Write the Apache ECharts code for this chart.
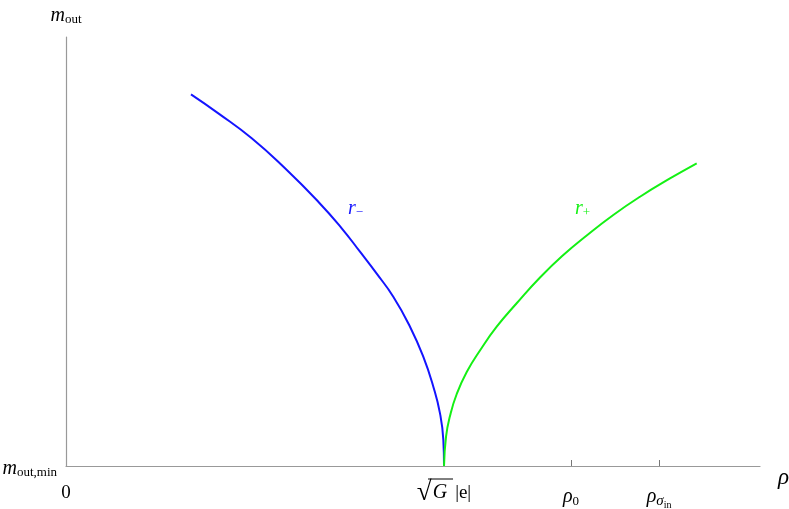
<!DOCTYPE html>
<html><head><meta charset="utf-8">
<script src="https://cdn.jsdelivr.net/npm/echarts@6/dist/echarts.min.js"></script>
<style>html,body{margin:0;padding:0;background:#fff}#c{width:789px;height:509px}</style>
</head><body><div id="c"></div>
<script>
// rho (x) and m_out (y) values, in arbitrary units
var rMinusX = [1.801, 2.195, 2.676, 3.156, 3.635, 3.973, 4.236, 4.477, 4.716, 4.957, 5.148, 5.293, 5.389, 5.437, 5.447];
var rMinusY = [8.664, 8.221, 7.639, 6.939, 6.161, 5.541, 4.995, 4.483, 3.946, 3.247, 2.548, 1.848, 1.228, 0.606, 0];
var rPlusX = [5.447, 5.476, 5.533, 5.630, 5.774, 5.965, 6.206, 6.494, 6.830, 7.166, 7.503, 7.886, 8.271, 8.703, 9.088];
var rPlusY = [0, 0.683, 1.166, 1.678, 2.191, 2.692, 3.247, 3.793, 4.394, 4.918, 5.373, 5.851, 6.277, 6.702, 7.056];
var xTickValues = [5.447, 7.277, 8.545];
var xTickLabels = ['sqrtGe', 'rho0', 'rhoSigma'];
var xMax = 10, yMax = 10;

function pairs(xs, ys){ return xs.map(function(x,i){ return [x, ys[i]]; }); }
var labelMap = {};
xTickValues.forEach(function(v,i){ labelMap[v] = xTickLabels[i]; });
var serif = '"Liberation Serif", "DejaVu Serif", serif';

var chart = echarts.init(document.getElementById('c'));
chart.setOption({
  animation: false,
  grid: {left: 66, right: 29, top: 37, bottom: 43, outerBoundsMode: 'none', containLabel: false},
  xAxis: {
    type: 'value', min: 0, max: xMax,
    splitLine: {show: false},
    axisLine: {lineStyle: {color: '#999', width: 1.2}},
    axisTick: {show: true, inside: true, length: 6, customValues: xTickValues, lineStyle: {color: '#777'}},
    axisLabel: {
      customValues: [0].concat(xTickValues), margin: 15,
      fontFamily: serif, color: '#000', fontSize: 19,
      formatter: function(v){
        if (v === 0) return '{n|0}';
        var k = labelMap[v];
        if (k === 'sqrtGe') return '{rad|√}{g|G}{n||e|}';
        if (k === 'rho0') return '{r|ρ}{sub|0}';
        if (k === 'rhoSigma') return '{r|ρ}{subi|σ}{subsub|in}';
        return '';
      },
      rich: {
        n: {fontFamily: serif, fontSize: 19, color: '#000', lineHeight: 24},
        rad: {fontFamily: serif, fontSize: 27, color: '#000', lineHeight: 24, padding: [0,0,0,0]},
        g: {fontFamily: serif, fontStyle: 'italic', fontSize: 20, color: '#000', lineHeight: 24, padding: [0,8,0,1]},
        r: {fontFamily: serif, fontStyle: 'italic', fontSize: 20, color: '#000', lineHeight: 24, padding: [8,0,0,0]},
        sub: {fontFamily: serif, fontSize: 13, color: '#000', lineHeight: 24, padding: [18,0,0,0]},
        subi: {fontFamily: serif, fontStyle: 'italic', fontSize: 15, color: '#000', lineHeight: 24, padding: [16,0,0,0]},
        subsub: {fontFamily: serif, fontSize: 10, color: '#000', lineHeight: 24, padding: [25,0,0,0]}
      }
    },
    name: 'ρ', nameLocation: 'end', nameGap: 18,
    nameTextStyle: {fontFamily: serif, fontStyle: 'italic', fontSize: 23, color: '#000', verticalAlign: 'top'}
  },
  yAxis: {
    type: 'value', min: 0, max: yMax,
    splitLine: {show: false},
    axisLine: {show: true, lineStyle: {color: '#999', width: 1.2}},
    axisTick: {show: false},
    axisLabel: {
      customValues: [0], margin: 9,
      formatter: function(){ return '{m|m}{s|out,min}'; },
      rich: {
        m: {fontFamily: serif, fontStyle: 'italic', fontSize: 20, color: '#000', lineHeight: 22, padding: [6,0,0,0]},
        s: {fontFamily: serif, fontSize: 13, color: '#000', lineHeight: 22, padding: [14,0,0,0]}
      }
    },
    name: '{m|m}{s|out}', nameLocation: 'end', nameGap: 10,
    nameTextStyle: {
      align: 'center',
      rich: {
        m: {fontFamily: serif, fontStyle: 'italic', fontSize: 20, color: '#000', lineHeight: 22},
        s: {fontFamily: serif, fontSize: 13, color: '#000', lineHeight: 22, padding: [8,0,0,0]}
      }
    }
  },
  series: [
    {type: 'line', data: pairs(rMinusX, rMinusY), smooth: 0.5, showSymbol: false,
     lineStyle: {color: '#1414ff', width: 2}, z: 3},
    {type: 'line', data: pairs(rPlusX, rPlusY), smooth: 0.5, showSymbol: false,
     lineStyle: {color: '#14f014', width: 2}, z: 3}
  ],
  graphic: [
    {type: 'text', left: 348, top: 198, style: {text: '{r|r}{s|−}', rich: {
      r: {fontFamily: serif, fontStyle: 'italic', fontSize: 20, fill: '#1414ff', lineHeight: 22},
      s: {fontFamily: serif, fontSize: 13, fill: '#1414ff', lineHeight: 22, padding: [8,0,0,0]}}}},
    {type: 'text', left: 575, top: 198, style: {text: '{r|r}{s|+}', rich: {
      r: {fontFamily: serif, fontStyle: 'italic', fontSize: 20, fill: '#14f014', lineHeight: 22},
      s: {fontFamily: serif, fontSize: 13, fill: '#14f014', lineHeight: 22, padding: [8,0,0,0]}}}}
  ]
});
// overline of the square root, placed from the axis scale
var p = chart.convertToPixel({gridIndex: 0}, [xTickValues[0], 0]);
chart.setOption({graphic: [{}, {}, {type: 'line', shape: {x1: p[0] - 16, y1: p[1] + 13, x2: p[0] + 9, y2: p[1] + 13}, style: {stroke: '#000', lineWidth: 1}}]});
</script></body></html>
